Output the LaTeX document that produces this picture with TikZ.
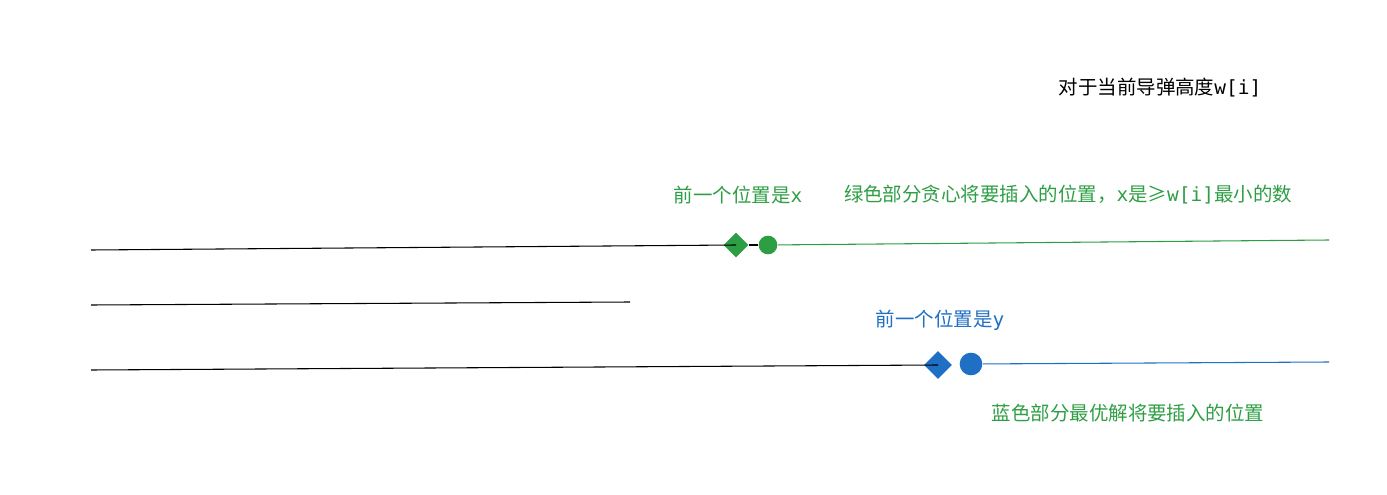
\documentclass[tikz,border=0pt]{standalone}
\usepackage{fontspec}
\newfontfamily\cjk{Noto Sans CJK SC}
\newfontfamily\mono{DejaVu Sans Mono}
\usetikzlibrary{shapes.geometric}
\definecolor{gr}{HTML}{2E9E44}
\definecolor{bl}{HTML}{1F6FC5}
\begin{document}
\begin{tikzpicture}[x=0.75pt,y=-0.75pt,line width=0.8pt,
  txt/.style={font=\cjk\fontsize{14.6}{17}\selectfont,inner sep=0},
  dia/.style={diamond,fill=#1,inner sep=0},
  dot/.style={circle,fill=#1,inner sep=0}]
\useasboundingbox (0,0) rectangle (1387,495);
\node[txt] (t0) at (1160,88) {对于当前导弹高度{\mono w[i]}};
\node[txt,text=gr] (t1) at (738,195) {前一个位置是{\mono x}};
\node[txt,text=gr] (t2) at (1068,195) {绿色部分贪心将要插入的位置，{\mono x}是≥{\mono w[i]}最小的数};
\node[txt,text=bl] (t3) at (940,320) {前一个位置是{\mono y}};
\node[txt,text=gr] (t4) at (1128,413) {蓝色部分最优解将要插入的位置};
\coordinate (a0) at (91,250);
\node[dia=gr,minimum size=19pt] (d1) at (736,245) {};
\node[dot=gr,minimum size=14pt] (c1) at (768,245) {};
\coordinate (a1) at (1329,240);
\draw (a0) -- (d1.center);
\draw[gr] (c1) -- (a1);
\draw (d1) -- (c1);
\coordinate (b0) at (91,305);
\coordinate (b1) at (630,302);
\draw (b0) -- (b1);
\coordinate (e0) at (91,370);
\node[dia=bl,minimum size=21pt] (d2) at (938,365) {};
\node[dot=bl,minimum size=17pt] (c2) at (971,364) {};
\coordinate (e1) at (1329,362);
\draw (e0) -- (d2.center);
\draw[bl] (c2) -- (e1);
\end{tikzpicture}
\end{document}
